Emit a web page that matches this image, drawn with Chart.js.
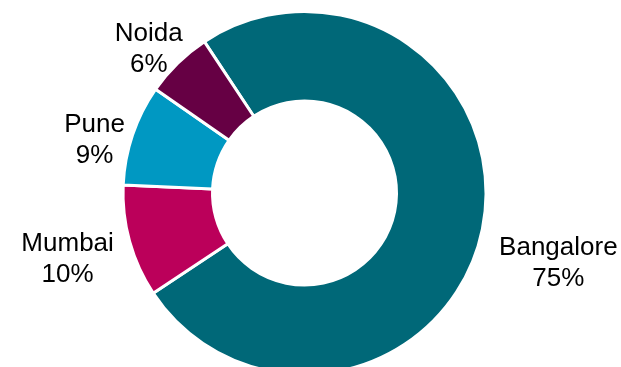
<!DOCTYPE html>
<html>
<head>
<meta charset="utf-8">
<script src="https://cdn.jsdelivr.net/npm/chart.js@4/dist/chart.umd.min.js"></script>
<style>
  html, body { margin: 0; padding: 0; background: #ffffff; }
  #wrap { width: 621px; height: 367px; overflow: hidden; position: relative; }
  #chart { display: block; }
</style>
</head>
<body>
<div id="wrap"><canvas id="chart" width="621" height="390"></canvas></div>
<script>
// Share of offices by city (%)
const cities = ['Bangalore', 'Mumbai', 'Pune', 'Noida'];
const shares = [75, 10, 9, 6];
const sliceColors = ['#006878', '#BB005A', '#0098C2', '#660044'];

// Nudge of each two-line label away from the outer edge of its slice
const labelNudge = [
  { dx: 76, dy: 33 },
  { dx: -62, dy: 16 },
  { dx: -38, dy: 4 },
  { dx: -29, dy: -15 }
];

const outsideLabels = {
  id: 'outsideLabels',
  afterDatasetsDraw(chart) {
    const ctx = chart.ctx;
    const meta = chart.getDatasetMeta(0);
    const total = shares.reduce((a, b) => a + b, 0);
    ctx.save();
    ctx.fillStyle = '#000000';
    ctx.font = '26px "Liberation Sans", Arial, sans-serif';
    ctx.textAlign = 'center';
    ctx.textBaseline = 'alphabetic';
    meta.data.forEach((arc, i) => {
      const p = arc.getProps(['x', 'y', 'startAngle', 'endAngle', 'outerRadius'], true);
      const mid = (p.startAngle + p.endAngle) / 2;
      const cx = p.x + Math.cos(mid) * p.outerRadius + labelNudge[i].dx;
      const cy = p.y + Math.sin(mid) * p.outerRadius + labelNudge[i].dy;
      const pct = Math.round(shares[i] / total * 100) + '%';
      ctx.fillText(cities[i], cx, cy - 7);
      ctx.fillText(pct, cx, cy + 24);
    });
    ctx.restore();
  }
};

new Chart(document.getElementById('chart'), {
  type: 'doughnut',
  data: {
    labels: cities,
    datasets: [{
      data: shares,
      backgroundColor: sliceColors,
      borderColor: '#ffffff',
      borderWidth: 3,
      hoverOffset: 0
    }]
  },
  options: {
    responsive: false,
    animation: false,
    rotation: -33.5,
    radius: 181.5,
    cutout: 91,
    layout: { padding: { left: 0, right: 12, top: 12, bottom: 16 } },
    plugins: {
      legend: { display: false },
      tooltip: { enabled: false }
    }
  },
  plugins: [outsideLabels]
});
</script>
</body>
</html>
